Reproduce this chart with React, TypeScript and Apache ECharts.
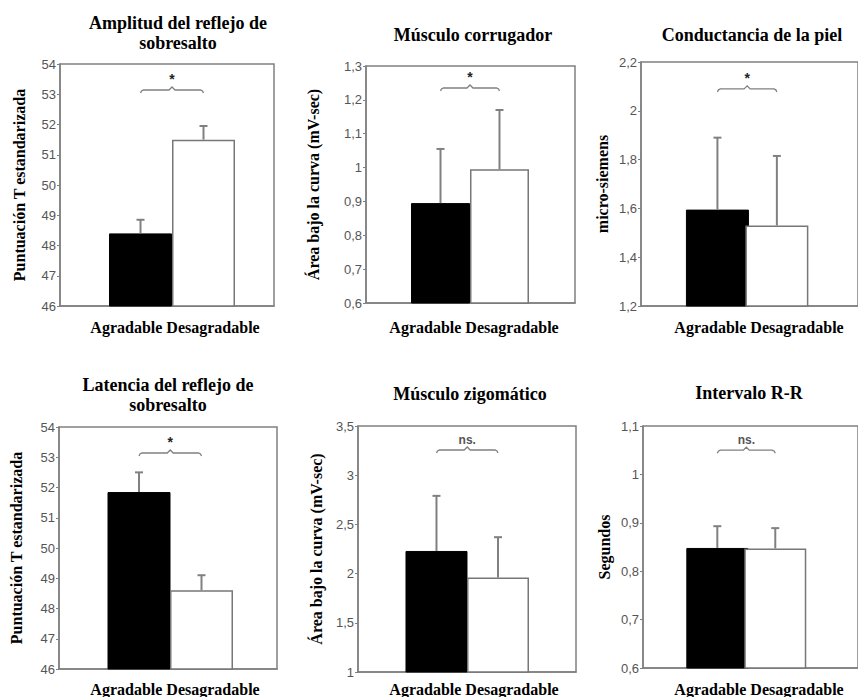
import React, { useEffect, useRef } from 'react';
import * as echarts from 'echarts';

const titles = [
  'Amplitud del reflejo de\nsobresalto',
  'Músculo corrugador',
  'Conductancia de la piel',
  'Latencia del reflejo de\nsobresalto',
  'Músculo zigomático',
  'Intervalo R-R',
];
const yNames = [
  'Puntuación T estandarizada',
  'Área bajo la curva (mV-sec)',
  'micro-siemens',
  'Puntuación T estandarizada',
  'Área bajo la curva (mV-sec)',
  'Segundos',
];
const categories = ['Agradable', 'Desagradable'];
const agradableMeans = [48.4, 0.895, 1.595, 51.85, 2.23, 0.848];
const desagradableMeans = [51.5, 0.995, 1.53, 48.6, 1.96, 0.847];
const agradableErrTop = [48.85, 1.055, 1.89, 52.5, 2.79, 0.893];
const desagradableErrTop = [51.95, 1.17, 1.815, 49.1, 2.37, 0.889];
const significance = ['*', '*', '*', '*', 'ns.', 'ns.'];
const bracketLevel = [53.14, 1.235, 2.09, 53.14, 3.256, 1.05];
const yMin = [46, 0.6, 1.2, 46, 1, 0.6];
const yMax = [54, 1.3, 2.2, 54, 3.5, 1.1];
const yStep = [1, 0.1, 0.2, 1, 0.5, 0.1];

// layout (pixels) of each panel
const layout = [
  { left: 60, top: 64, width: 214, height: 242, xMin: -1.278, xMax: 2.119, barW: 63, gap: 33, tx: 178, ty: 33, lx: 175, ly: 327 },
  { left: 366, top: 66, width: 209, height: 237, xMin: -1.263, xMax: 2.28, barW: 59, gap: 45, tx: 473, ty: 35, lx: 474, ly: 327 },
  { left: 641, top: 62, width: 230, height: 244, xMin: -1.286, xMax: 2.365, barW: 63, gap: 31, tx: 752, ty: 35, lx: 759, ly: 327 },
  { left: 59, top: 427, width: 218, height: 242, xMin: -1.28, xMax: 2.208, barW: 63, gap: 35, tx: 168, ty: 395, lx: 175, ly: 689 },
  { left: 358, top: 426, width: 218, height: 246, xMin: -1.276, xMax: 2.268, barW: 62, gap: 34, tx: 470, ty: 394, lx: 474, ly: 689 },
  { left: 643, top: 426, width: 230, height: 242, xMin: -1.282, xMax: 2.427, barW: 62, gap: 31, tx: 749, ty: 393, lx: 759, ly: 689 },
];

const GRAY = '#808080';
const SERIF = '"Liberation Serif", "Times New Roman", serif';
const SANS = '"Liberation Sans", Arial, sans-serif';

function fmt(v: number) {
  return String(+v.toFixed(2)).replace('.', ',');
}

export default function App() {
  const ref = useRef<HTMLDivElement>(null);
  useEffect(() => {
    if (!ref.current) return;
    const chart = echarts.init(ref.current, undefined, { renderer: 'svg' });
    const grid: any[] = [];
    const xAxis: any[] = [];
    const yAxis: any[] = [];
    const series: any[] = [];
    const graphic: any[] = [];

    layout.forEach((L, i) => {
      grid.push({
        left: L.left, top: L.top, width: L.width, height: L.height,
        show: true, borderColor: GRAY, borderWidth: 1.5, containLabel: false,
      });
      xAxis.push({
        type: 'value', gridIndex: i, min: L.xMin, max: L.xMax,
        axisLine: { show: true, onZero: false, lineStyle: { color: GRAY, width: 1.5 } },
        axisTick: { show: false }, axisLabel: { show: false }, splitLine: { show: false },
      });
      yAxis.push({
        type: 'value', gridIndex: i, min: yMin[i], max: yMax[i], interval: yStep[i],
        axisLine: { show: true, onZero: false, lineStyle: { color: GRAY, width: 1.5 } },
        axisTick: { show: true, length: 3, lineStyle: { color: GRAY } },
        axisLabel: { color: '#555', fontSize: 13, fontFamily: SANS, margin: 4, formatter: (v: number) => fmt(v) },
        splitLine: { show: false },
        name: yNames[i], nameLocation: 'middle', nameGap: L.gap, nameRotate: 90,
        nameTextStyle: { color: '#000', fontFamily: SERIF, fontWeight: 'bold', fontSize: 16 },
      });
      series.push({
        type: 'bar', name: titles[i], xAxisIndex: i, yAxisIndex: i, barWidth: L.barW,
        data: [
          { name: categories[0], value: [0, agradableMeans[i]], itemStyle: { color: '#000', borderColor: '#000', borderWidth: 1 } },
          { name: categories[1], value: [1, desagradableMeans[i]], itemStyle: { color: '#fff', borderColor: '#777', borderWidth: 1.5 } },
        ],
      });
      series.push({
        type: 'custom', xAxisIndex: i, yAxisIndex: i, z: 5, clip: false,
        data: [
          [0, agradableMeans[i], agradableErrTop[i]],
          [1, desagradableMeans[i], desagradableErrTop[i]],
        ],
        renderItem: (params: any, api: any) => {
          const x = api.value(0);
          const b = api.coord([x, api.value(1)]);
          const t = api.coord([x, api.value(2)]);
          const st = { stroke: GRAY, lineWidth: 2 };
          return {
            type: 'group',
            children: [
              { type: 'line', shape: { x1: b[0], y1: b[1], x2: t[0], y2: t[1] }, style: st },
              { type: 'line', shape: { x1: t[0] - 4, y1: t[1], x2: t[0] + 4, y2: t[1] }, style: st },
            ],
          };
        },
      });
      series.push({
        type: 'custom', xAxisIndex: i, yAxisIndex: i, z: 5, clip: false,
        data: [[0, 1, bracketLevel[i]]],
        renderItem: (params: any, api: any) => {
          const a = api.coord([api.value(0), api.value(2)]);
          const c = api.coord([api.value(1), api.value(2)]);
          const y = a[1];
          const x0 = a[0];
          const x1 = c[0];
          const m = (x0 + x1) / 2;
          const label = significance[i];
          const isStar = label === '*';
          return {
            type: 'group',
            children: [
              {
                type: 'polyline',
                shape: {
                  points: [
                    [x0, y + 3], [x0 + 1, y + 1], [x0 + 3, y], [m - 3, y], [m, y - 3],
                    [m + 3, y], [x1 - 3, y], [x1 - 1, y + 1], [x1, y + 3],
                  ],
                },
                style: { stroke: GRAY, lineWidth: 1.3, fill: 'none' },
              },
              {
                type: 'text',
                x: m,
                y: isStar ? y - 11 : y - 10,
                style: {
                  text: label,
                  textAlign: 'center',
                  textVerticalAlign: 'middle',
                  fontFamily: SANS,
                  fontWeight: 'bold',
                  fontSize: isStar ? 14 : 12,
                  fill: isStar ? '#222' : '#555',
                },
              },
            ],
          };
        },
      });
      graphic.push({
        type: 'text', x: L.tx, y: L.ty,
        style: {
          text: titles[i], textAlign: 'center', textVerticalAlign: 'middle',
          fontFamily: SERIF, fontWeight: 'bold', fontSize: 18, lineHeight: 20, fill: '#000',
        },
      });
      graphic.push({
        type: 'text', x: L.lx, y: L.ly,
        style: {
          text: categories.join(' '), textAlign: 'center', textVerticalAlign: 'middle',
          fontFamily: SERIF, fontWeight: 'bold', fontSize: 16, fill: '#000',
        },
      });
    });

    chart.setOption({
      animation: false,
      backgroundColor: '#fff',
      grid, xAxis, yAxis, series, graphic,
    });
    return () => chart.dispose();
  }, []);
  return <div ref={ref} style={{ position: 'absolute', left: 0, top: 0, width: 858, height: 697 }} />;
}
